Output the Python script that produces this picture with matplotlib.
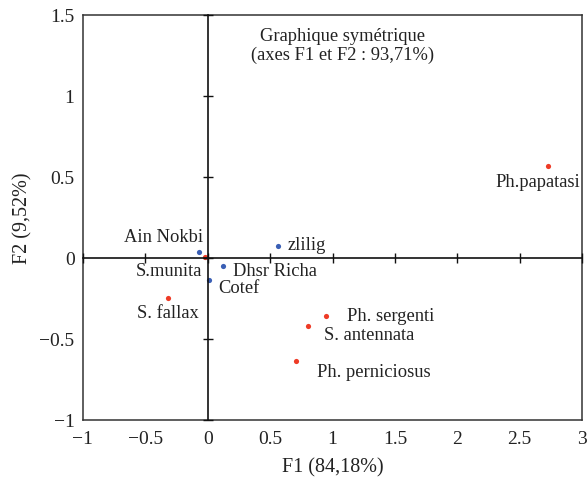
import matplotlib.pyplot as plt

plt.rcParams['font.family'] = ['Liberation Serif', 'DejaVu Serif']

# Species (red) coordinates on F1/F2
species = ["Ph.papatasi", "Ph. sergenti", "S. antennata", "Ph. perniciosus", "S. fallax", "S.munita"]
sp_f1 = [2.73, 0.95, 0.80, 0.71, -0.32, -0.02]
sp_f2 = [0.57, -0.36, -0.42, -0.635, -0.25, 0.005]

# Sites (blue)
sites = ["Ain Nokbi", "zlilig", "Dhsr Richa", "Cotef"]
si_f1 = [-0.07, 0.56, 0.12, 0.01]
si_f2 = [0.035, 0.075, -0.05, -0.135]

red = "#ee3b26"
blue = "#3a5fb5"

fig = plt.figure(figsize=(5.88, 4.81), dpi=100)
pos = [0.141, 0.125, 0.849, 0.842]
ax = fig.add_axes(pos)
ax.set_xlim(-1, 3)
ax.set_ylim(-1, 1.5)

ax.scatter(sp_f1, sp_f2, s=14, color=red, zorder=3, linewidths=0)
ax.scatter(si_f1, si_f2, s=14, color=blue, zorder=3, linewidths=0)

fs = 13.3
# label offsets in points (dx, dy, ha)
sp_off = {
    "Ph.papatasi": (-8, -11.5, "center"),
    "Ph. sergenti": (14.6, 0.5, "left"),
    "S. antennata": (12.2, -6.5, "left"),
    "Ph. perniciosus": (15, -7.5, "left"),
    "S. fallax": (0, -10, "center"),
    "S.munita": (-2, -9.5, "right"),
}
si_off = {
    "Ain Nokbi": (2.7, 11, "right"),
    "zlilig": (7.2, 1.2, "left"),
    "Dhsr Richa": (7.4, -3.6, "left"),
    "Cotef": (6.5, -5.5, "left"),
}
for name, x, y in zip(species, sp_f1, sp_f2):
    dx, dy, ha = sp_off[name]
    ax.annotate(name, (x, y), xytext=(dx, dy), textcoords="offset points",
                ha=ha, va="center", fontsize=fs, color="#222222")
for name, x, y in zip(sites, si_f1, si_f2):
    dx, dy, ha = si_off[name]
    ax.annotate(name, (x, y), xytext=(dx, dy), textcoords="offset points",
                ha=ha, va="center", fontsize=fs, color="#222222")

ax.text(0.52, 0.926, "Graphique symétrique\n(axes F1 et F2 : 93,71%)",
        transform=ax.transAxes, ha="center", va="center", fontsize=13.3,
        color="#222222", linespacing=1.15)

ax.set_xticks([-1, -0.5, 0, 0.5, 1, 1.5, 2, 2.5, 3])
ax.set_xticklabels(["\u22121", "\u22120.5", "0", "0.5", "1", "1.5", "2", "2.5", "3"])
ax.set_yticks([-1, -0.5, 0, 0.5, 1, 1.5])
ax.set_yticklabels(["\u22121", "\u22120.5", "0", "0.5", "1", "1.5"])
ax.tick_params(length=0, labelsize=14, colors="#222222")
ax.tick_params(axis="x", pad=7)
ax.tick_params(axis="y", pad=6)
for s in ax.spines.values():
    s.set_linewidth(1.1)
    s.set_color("#333333")

ax.set_xlabel("F1 (84,18%)", fontsize=14.5, color="#222222", labelpad=8)
ax.set_ylabel("F2 (9,52%)", fontsize=14.5, color="#222222", labelpad=5)

# central axes with crossing ticks
ax2 = fig.add_axes(pos, sharex=ax, sharey=ax)
ax2.patch.set_visible(False)
ax2.spines["left"].set_position(("data", 0))
ax2.spines["bottom"].set_position(("data", 0))
ax2.spines["top"].set_visible(False)
ax2.spines["right"].set_visible(False)
for s in ("left", "bottom"):
    ax2.spines[s].set_linewidth(1.2)
    ax2.spines[s].set_color("#111111")
ax2.tick_params(direction="inout", length=7, width=1, labelleft=False,
                labelbottom=False, colors="#111111")

fig.savefig("out.png", dpi=100)
